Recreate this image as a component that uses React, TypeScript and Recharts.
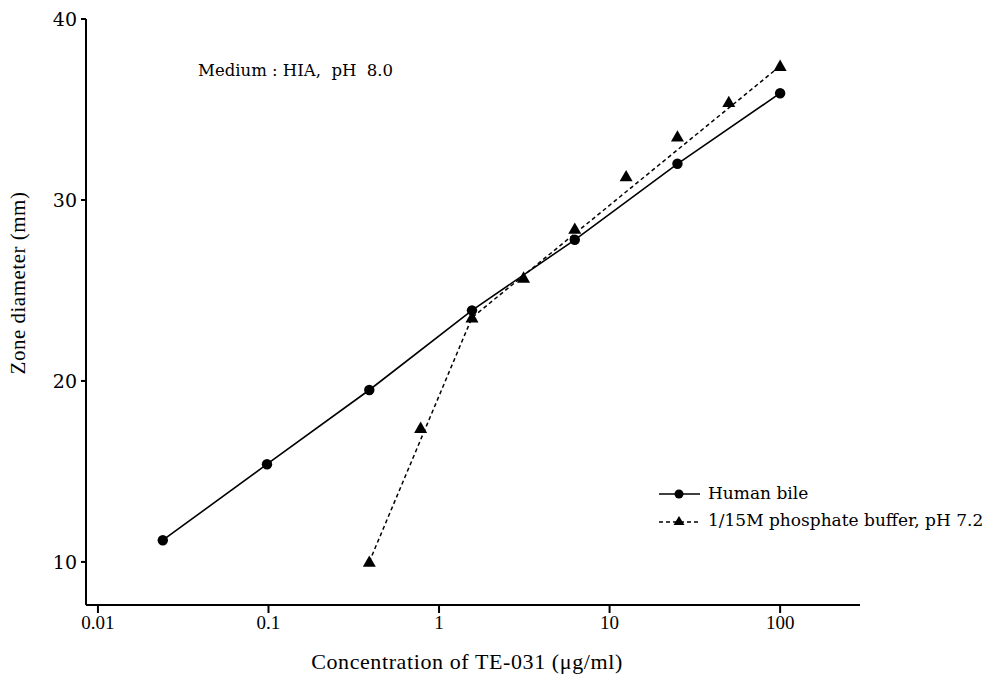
import React from 'react';
import { ScatterChart, Scatter, XAxis, YAxis } from 'recharts';

// Human bile
const bileConc = [0.024, 0.098, 0.39, 1.56, 6.25, 25, 100];
const bileZone = [11.2, 15.4, 19.5, 23.9, 27.8, 32.0, 35.9];

// 1/15M phosphate buffer, pH 7.2
const bufConc = [0.39, 0.78, 1.56, 3.13, 6.25, 12.5, 25, 50, 100];
const bufZone = [10.0, 17.4, 23.5, 25.7, 28.4, 31.3, 33.5, 35.4, 37.4];

// fitted (dashed) regression line through buffer data
const bufFitConc = [0.39, 1.56, 100];
const bufFitZone = [10.0, 23.5, 37.4];

const xTicks = [0.01, 0.1, 1, 10, 100];
const yTicks = [10, 20, 30, 40];

const bileData = bileConc.map((x, i) => ({ x, y: bileZone[i] }));
const bufData = bufConc.map((x, i) => ({ x, y: bufZone[i] }));
const bufFitData = bufFitConc.map((x, i) => ({ x, y: bufFitZone[i] }));

const SERIF = '"Liberation Serif", "DejaVu Serif", serif';
const SERIF2 = '"DejaVu Serif", "Liberation Serif", serif';

const Dot = (props: any) => {
  const { cx, cy } = props;
  return <circle cx={cx} cy={cy} r={5.2} fill="#000" />;
};

const Tri = (props: any) => {
  const { cx, cy } = props;
  const s = 6.5;
  return (
    <polygon
      points={`${cx},${cy - s} ${cx - s},${cy + s * 0.75} ${cx + s},${cy + s * 0.75}`}
      fill="#000"
    />
  );
};

const Nothing = () => <g />;

export default function App() {
  return (
    <div style={{ position: 'absolute', left: 0, top: 0, width: 998, height: 679, background: '#fff' }}>
      <ScatterChart
        width={998}
        height={679}
        margin={{ top: 19, right: 138, bottom: 34, left: 8 }}
      >
        <XAxis
          dataKey="x"
          type="number"
          scale="log"
          domain={[0.00851, 294]}
          allowDataOverflow
          ticks={xTicks}
          tickFormatter={(v: number) => String(v)}
          stroke="#000"
          strokeWidth={2}
          tickSize={8}
          tickMargin={3}
          height={40}
          tick={{ fill: '#000', fontSize: 19, fontFamily: SERIF }}
          label={{
            content: (p: any) => {
              const vb = p.viewBox;
              return (
                <text
                  x={vb.x + vb.width / 2 - 6}
                  y={vb.y + 64}
                  textAnchor="middle"
                  fontSize={22}
                  letterSpacing={0.6}
                  fontFamily={SERIF}
                  fill="#000"
                >
                  Concentration of TE-031 (μg/ml)
                </text>
              );
            },
          }}
        />
        <YAxis
          dataKey="y"
          type="number"
          domain={[7.62, 40]}
          allowDataOverflow
          ticks={yTicks}
          stroke="#000"
          strokeWidth={2}
          tickSize={5}
          tickMargin={4}
          width={78}
          tick={{ fill: '#000', fontSize: 19, fontFamily: SERIF2 }}
          label={{
            content: (p: any) => {
              const vb = p.viewBox;
              const cx = vb.x + 10;
              const cy = 283;
              return (
                <text
                  x={cx}
                  y={cy}
                  transform={`rotate(-90 ${cx} ${cy})`}
                  textAnchor="middle"
                  dominantBaseline="central"
                  fontSize={21}
                  letterSpacing={0.5}
                  fontFamily={SERIF}
                  fill="#000"
                >
                  Zone diameter (mm)
                </text>
              );
            },
          }}
        />
        <Scatter
          data={bufFitData}
          shape={Nothing}
          fill="#000"
          line={{ stroke: '#000', strokeWidth: 1.5, strokeDasharray: '4 3' }}
          lineType="joint"
          isAnimationActive={false}
          legendType="none"
        />
        <Scatter
          data={bileData}
          shape={Dot}
          fill="#000"
          line={{ stroke: '#000', strokeWidth: 1.6 }}
          lineType="joint"
          isAnimationActive={false}
        />
        <Scatter data={bufData} shape={Tri} fill="#000" isAnimationActive={false} />
      </ScatterChart>

      <div
        style={{
          position: 'absolute',
          left: 658,
          top: 480,
          fontFamily: SERIF2,
          fontSize: 17,
          color: '#000',
          lineHeight: '27px',
          whiteSpace: 'pre',
        }}
      >
        <div style={{ display: 'flex', alignItems: 'center' }}>
          <svg width={44} height={14} style={{ marginRight: 6 }}>
            <line x1={1} y1={7} x2={42} y2={7} stroke="#000" strokeWidth={1.5} />
            <circle cx={21} cy={7} r={4.5} fill="#000" />
          </svg>
          <span>Human bile</span>
        </div>
        <div style={{ display: 'flex', alignItems: 'center' }}>
          <svg width={44} height={14} style={{ marginRight: 6 }}>
            <line x1={1} y1={8} x2={42} y2={8} stroke="#000" strokeWidth={1.5} strokeDasharray="4 3" />
            <polygon points="21,2 15.5,11 26.5,11" fill="#000" />
          </svg>
          <span>1/15M phosphate buffer, pH 7.2</span>
        </div>
      </div>

      <div
        style={{
          position: 'absolute',
          left: 198,
          top: 61,
          fontFamily: SERIF2,
          fontSize: 16.5,
          color: '#000',
          whiteSpace: 'pre',
        }}
      >
        Medium : HIA,  pH  8.0
      </div>
    </div>
  );
}
